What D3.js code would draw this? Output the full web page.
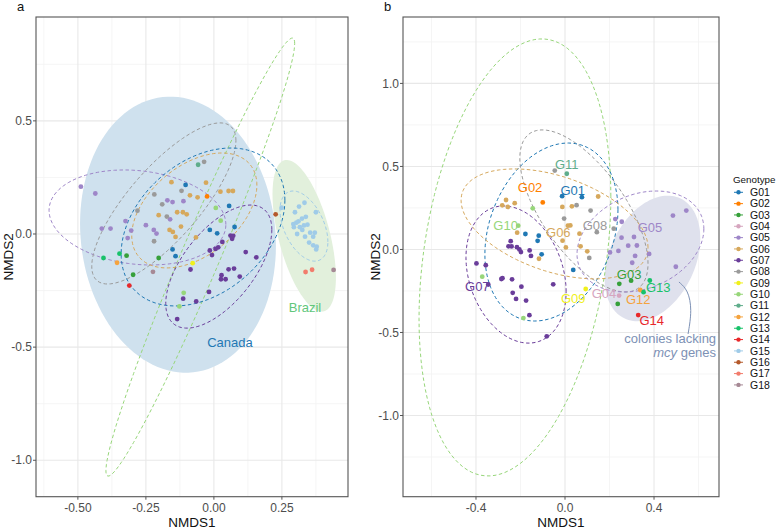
<!DOCTYPE html>
<html>
<head>
<meta charset="utf-8">
<script src="https://cdn.jsdelivr.net/npm/d3@7"></script>
<style>
body { margin: 0; background: #fff; }
text { font-family: "Liberation Sans", Arial, sans-serif; }
</style>
</head>
<body>
<div id="chart"></div>
<script>
var width = 778, height = 529;

var genotypes = ['G01','G02','G03','G04','G05','G06','G07','G08','G09','G10','G11','G12','G13','G14','G15','G16','G17','G18'];
var colors = ['#1f78b4','#ff7f00','#36a03a','#d6a6bf','#9e86c8','#d6a85c','#6a3d9a','#9a9a9a','#f0f01c','#97d67a',
              '#5fad8b','#f5a33e','#18c26a','#e8282a','#9fcbe8','#b4592b','#f27c6c','#a68995'];

// panel a: [genotype, NMDS1, NMDS2]
var pointsA = [
  ['G01',-0.104,0.217],['G01',0.056,0.124],['G01',-0.015,0.018],['G01',0.012,0.003],['G01',0.076,0.031],
  ['G01',-0.152,-0.068],['G01',-0.141,-0.098],
  ['G02',-0.025,0.166],
  ['G03',-0.321,-0.096],['G03',-0.297,-0.180],['G03',-0.203,-0.106],
  ['G05',-0.489,0.209],['G05',-0.436,0.179],['G05',-0.325,0.057],['G05',-0.412,0.024],['G05',-0.380,0.024],
  ['G05',-0.304,0.015],['G05',-0.317,-0.018],['G05',-0.171,0.149],['G05',-0.152,0.141],['G05',-0.112,0.145],
  ['G05',-0.161,0.065],['G05',-0.250,0.039],['G05',-0.221,0.018],['G05',-0.211,0.002],
  ['G06',-0.156,0.229],['G06',-0.029,0.227],['G06',-0.088,0.171],['G06',-0.060,0.162],['G06',0.024,0.187],
  ['G06',0.054,0.190],['G06',0.070,0.190],['G06',-0.203,0.083],['G06',-0.135,0.096],['G06',-0.114,0.096],
  ['G06',-0.100,0.087],['G06',-0.121,0.033],['G06',-0.163,0.018],['G06',-0.151,0.009],['G06',-0.141,-0.013],
  ['G06',-0.066,-0.015],
  ['G07',0.061,-0.007],['G07',0.067,-0.021],['G07',0.071,-0.008],['G07',0.031,-0.035],['G07',0.016,-0.059],
  ['G07',0.006,-0.066],['G07',-0.015,-0.073],['G07',-0.007,-0.093],['G07',0.117,-0.080],['G07',0.156,-0.103],
  ['G07',0.054,-0.156],['G07',0.074,-0.153],['G07',0.028,-0.182],['G07',0.043,-0.200],['G07',0.026,-0.200],
  ['G07',0.095,-0.188],['G07',-0.018,-0.256],['G07',-0.086,-0.157],['G07',-0.113,-0.286],['G07',-0.065,-0.298],
  ['G07',-0.135,-0.376],
  ['G08',-0.036,0.319],['G08',-0.119,0.191],['G08',-0.219,0.175],['G08',-0.190,0.131],['G08',-0.281,0.103],
  ['G08',-0.173,0.077],['G08',-0.220,-0.032],
  ['G09',-0.078,-0.129],
  ['G10',0.007,0.115],['G10',0.025,0.059],['G10',-0.111,-0.260],['G10',-0.127,-0.320],
  ['G11',-0.058,0.306],
  ['G12',-0.356,-0.127],
  ['G13',-0.406,-0.106],['G13',-0.347,-0.087],
  ['G14',-0.311,-0.228],
  ['G15',0.249,0.116],['G15',0.298,0.096],['G15',0.313,0.121],['G15',0.333,0.138],['G15',0.375,0.096],
  ['G15',0.324,0.068],['G15',0.338,0.076],['G15',0.311,0.056],['G15',0.292,0.044],['G15',0.303,0.050],
  ['G15',0.316,0.030],['G15',0.331,0.038],['G15',0.344,0.041],['G15',0.294,0.030],['G15',0.306,0.000],
  ['G15',0.325,0.018],['G15',0.335,-0.012],['G15',0.354,0.006],['G15',0.371,0.006],['G15',0.365,-0.012],
  ['G15',0.350,-0.038],['G15',0.365,-0.050],['G15',0.376,-0.068],['G15',0.378,-0.056],
  ['G16',0.227,0.087],
  ['G17',0.337,-0.168],['G17',0.361,-0.158],
  ['G18',-0.224,-0.167],['G18',0.440,-0.159]
];

// panel b
var pointsB = [
  ['G01',-0.013,0.321],['G01',0.076,0.315],['G01',-0.178,0.093],['G01',-0.118,0.083],['G01',-0.123,0.052],
  ['G01',-0.105,-0.029],['G01',0.037,-0.123],
  ['G02',-0.100,0.283],
  ['G03',0.244,-0.207],['G03',0.297,-0.188],['G03',0.237,-0.328],
  ['G04',0.243,-0.278],
  ['G05',0.226,0.183],['G05',0.255,0.167],['G05',0.254,0.071],['G05',0.310,0.075],['G05',0.323,0.024],
  ['G05',0.284,0.023],['G05',0.240,-0.009],['G05',0.202,-0.018],['G05',0.315,-0.039],['G05',0.378,-0.027],
  ['G05',0.302,-0.080],['G05',0.498,-0.104],['G05',0.485,0.204],['G05',0.545,0.234],
  ['G06',-0.265,0.298],['G06',-0.282,0.266],['G06',-0.257,0.256],['G06',-0.226,0.279],['G06',-0.012,0.256],
  ['G06',0.031,0.260],['G06',0.149,0.319],['G06',-0.215,0.101],['G06',0.013,0.143],['G06',0.024,0.145],
  ['G06',-0.011,0.053],['G06',0.004,0.012],['G06',0.065,0.095],['G06',0.070,0.019],['G06',0.100,-0.011],
  ['G06',-0.117,-0.056],
  ['G07',-0.244,0.050],['G07',-0.254,0.019],['G07',-0.240,0.018],['G07',-0.216,0.014],['G07',-0.205,0.000],
  ['G07',-0.198,-0.016],['G07',-0.159,-0.006],['G07',-0.153,-0.039],['G07',-0.398,-0.084],['G07',-0.356,-0.095],
  ['G07',-0.345,-0.211],['G07',-0.286,-0.178],['G07',-0.281,-0.173],['G07',-0.238,-0.180],['G07',-0.196,-0.224],
  ['G07',-0.235,-0.261],['G07',-0.053,-0.210],['G07',-0.220,-0.298],['G07',-0.175,-0.308],['G07',-0.160,-0.396],
  ['G07',-0.082,-0.523],
  ['G08',-0.046,0.475],['G08',0.052,0.267],['G08',0.115,0.234],['G08',-0.004,0.186],['G08',0.143,0.104],
  ['G08',0.219,0.125],['G08',0.109,-0.051],
  ['G09',0.093,-0.238],
  ['G10',-0.145,0.248],['G10',-0.210,0.143],['G10',-0.372,-0.164],['G10',-0.187,-0.413],
  ['G11',0.008,0.456],
  ['G12',0.338,-0.244],
  ['G13',0.353,-0.257],['G13',0.381,-0.187],
  ['G14',0.329,-0.395]
];

// ellipses: [group, centre x, centre y, sd x, sd y, correlation]
var regionsA = [['Canada',-0.132,-0.003,0.360,0.610,-0.08],['Brazil',0.332,-0.008,0.1165,0.335,-0.55]];
var regionFill = {Canada:'#cfe1ee', Brazil:'#e2f0dc'};
var ellipsesA = [
  ['G10',-0.050,-0.102,0.347,0.968,0.975],
  ['G05',-0.281,0.073,0.325,0.210,-0.15],
  ['G08',-0.184,0.135,0.265,0.356,0.78],
  ['G01',-0.040,0.031,0.301,0.349,0.34],
  ['G06',-0.072,0.104,0.230,0.254,0.44],
  ['G07',0.018,-0.144,0.195,0.272,0.60],
  ['G15',0.331,0.035,0.088,0.155,-0.45]
];
var regionB = ['mcy',0.393,-0.054,0.215,0.378,0.32];
var ellipsesB = [
  ['G10',-0.225,-0.048,0.431,1.316,0.28],
  ['G08',0.085,0.232,0.288,0.488,-0.65],
  ['G01',-0.061,0.105,0.299,0.536,0.25],
  ['G06',-0.047,0.154,0.420,0.331,-0.43],
  ['G07',-0.220,-0.151,0.225,0.413,-0.25],
  ['G05',0.339,0.048,0.285,0.304,0.25]
];
var labelsB = [
  ['G11',0.008,0.509],['G02',-0.157,0.372],['G01',0.035,0.358],['G10',-0.267,0.146],['G06',-0.030,0.101],
  ['G08',0.135,0.142],['G05',0.382,0.130],['G07',-0.394,-0.220],['G09',0.037,-0.294],['G04',0.175,-0.264],
  ['G03',0.288,-0.149],['G13',0.419,-0.230],['G12',0.329,-0.304],['G14',0.390,-0.429]
];

var ticksAx = [-0.5,-0.25,0,0.25], minorAx = [-0.625,-0.375,-0.125,0.125,0.375];
var ticksAy = [-1.0,-0.5,0,0.5], minorAy = [-0.75,-0.25,0.25,0.75];
var ticksBx = [-0.4,0,0.4], minorBx = [-0.6,-0.2,0.2,0.6];
var ticksBy = [-1.0,-0.5,0,0.5,1.0], minorBy = [-1.25,-0.75,-0.25,0.25,0.75,1.25];

var color = d3.scaleOrdinal().domain(genotypes).range(colors);

var svg = d3.select('#chart').append('svg')
    .attr('width', width).attr('height', height);

function ellipsePath(e, x, y) {
    var pts = d3.range(0, 121).map(function(i) {
        var t = i / 120 * 2 * Math.PI;
        var r = e[5];
        return [x(e[1] + e[3] * Math.cos(t)),
                y(e[2] + e[4] * (r * Math.cos(t) + Math.sqrt(1 - r * r) * Math.sin(t)))];
    });
    return d3.line()(pts) + 'Z';
}

function panel(opt) {
    var x = d3.scaleLinear().domain(opt.xd).range([opt.left, opt.right]);
    var y = d3.scaleLinear().domain(opt.yd).range([opt.bottom, opt.top]);
    var g = svg.append('g');

    g.append('rect').attr('x', opt.left).attr('y', opt.top)
        .attr('width', opt.right - opt.left).attr('height', opt.bottom - opt.top).attr('fill', '#fff');

    g.selectAll('.mx').data(opt.mx).enter().append('line')
        .attr('x1', x).attr('x2', x).attr('y1', opt.top).attr('y2', opt.bottom)
        .attr('stroke', '#f3f3f3').attr('stroke-width', 0.8);
    g.selectAll('.my').data(opt.my).enter().append('line')
        .attr('y1', y).attr('y2', y).attr('x1', opt.left).attr('x2', opt.right)
        .attr('stroke', '#f3f3f3').attr('stroke-width', 0.8);
    g.selectAll('.gx').data(opt.tx).enter().append('line')
        .attr('x1', x).attr('x2', x).attr('y1', opt.top).attr('y2', opt.bottom)
        .attr('stroke', '#e8e8e8').attr('stroke-width', 1.1);
    g.selectAll('.gy').data(opt.ty).enter().append('line')
        .attr('y1', y).attr('y2', y).attr('x1', opt.left).attr('x2', opt.right)
        .attr('stroke', '#e8e8e8').attr('stroke-width', 1.1);

    opt.fills.forEach(function(e) {
        g.append('path').attr('d', ellipsePath(e, x, y)).attr('fill', opt.fillColor[e[0]]);
    });

    g.selectAll('.ell').data(opt.ellipses).enter().append('path')
        .attr('d', function(e) { return ellipsePath(e, x, y); })
        .attr('fill', 'none')
        .attr('stroke', function(e) { return color(e[0]); })
        .attr('stroke-width', 1)
        .attr('stroke-dasharray', '3.5,2.5');

    g.selectAll('.dot').data(opt.points).enter().append('circle')
        .attr('cx', function(d) { return x(d[1]); })
        .attr('cy', function(d) { return y(d[2]); })
        .attr('r', 2.4)
        .attr('fill', function(d) { return color(d[0]); });

    // border
    g.append('rect').attr('x', opt.left).attr('y', opt.top)
        .attr('width', opt.right - opt.left).attr('height', opt.bottom - opt.top)
        .attr('fill', 'none').attr('stroke', '#555').attr('stroke-width', 1.1);

    // ticks
    g.selectAll('.tx').data(opt.tx).enter().append('line')
        .attr('x1', x).attr('x2', x).attr('y1', opt.bottom).attr('y2', opt.bottom + 3)
        .attr('stroke', '#555');
    g.selectAll('.ty').data(opt.ty).enter().append('line')
        .attr('y1', y).attr('y2', y).attr('x1', opt.left - 3).attr('x2', opt.left)
        .attr('stroke', '#555');
    g.selectAll('.tlx').data(opt.tx).enter().append('text')
        .attr('x', x).attr('y', opt.bottom + 15)
        .attr('text-anchor', 'middle').attr('font-size', 12).attr('fill', '#4d4d4d')
        .text(function(d) { return d3.format(opt.fmtx)(d).replace('−', '-'); });
    g.selectAll('.tly').data(opt.ty).enter().append('text')
        .attr('x', opt.left - 4).attr('y', y).attr('dy', '0.35em')
        .attr('text-anchor', 'end').attr('font-size', 12).attr('fill', '#4d4d4d')
        .text(function(d) { return d3.format('.1f')(d).replace('−', '-'); });

    g.append('text').attr('x', (opt.left + opt.right) / 2).attr('y', 527)
        .attr('text-anchor', 'middle').attr('font-size', 13.5).attr('fill', '#111').text('NMDS1');
    g.append('text').attr('transform', 'translate(' + (opt.left - 23.5) + ',' + ((opt.top + opt.bottom) / 2) + ') rotate(-90)')
        .attr('text-anchor', 'middle').attr('font-size', 13.5).attr('fill', '#111').text('NMDS2');
    g.append('text').attr('x', opt.left - 19).attr('y', 11)
        .attr('font-size', 13).attr('fill', '#111').text(opt.tag);

    return {g: g, x: x, y: y};
}

var pa = panel({
    left: 36, right: 348, top: 17, bottom: 496.7,
    xd: [-0.654, 0.493], yd: [-1.161, 0.959],
    tx: ticksAx, mx: minorAx, ty: ticksAy, my: minorAy, fmtx: '.2f',
    fills: regionsA, fillColor: regionFill, ellipses: ellipsesA, points: pointsA, tag: 'a'
});
pa.g.append('text').attr('x', pa.x(0.059)).attr('y', pa.y(-0.480)).attr('dy', '0.35em')
    .attr('text-anchor', 'middle').attr('font-size', 13).attr('fill', '#1f78b4').text('Canada');
pa.g.append('text').attr('x', pa.x(0.335)).attr('y', pa.y(-0.324)).attr('dy', '0.35em')
    .attr('text-anchor', 'middle').attr('font-size', 13).attr('fill', '#62c77c').text('Brazil');

var pb = panel({
    left: 403, right: 719, top: 17, bottom: 496.7,
    xd: [-0.728, 0.692], yd: [-1.489, 1.40],
    tx: ticksBx, mx: minorBx, ty: ticksBy, my: minorBy, fmtx: '.1f',
    fills: [regionB], fillColor: {mcy: '#dfe1ed'}, ellipses: ellipsesB, points: pointsB, tag: 'b'
});
pb.g.selectAll('.lab').data(labelsB).enter().append('text')
    .attr('x', function(d) { return pb.x(d[1]); })
    .attr('y', function(d) { return pb.y(d[2]); })
    .attr('dy', '0.35em').attr('text-anchor', 'middle').attr('font-size', 13)
    .attr('fill', function(d) { return color(d[0]); })
    .text(function(d) { return d[0]; });

var curve = [[0.512,-0.196],[0.553,-0.244],[0.571,-0.364],[0.553,-0.509]];
pb.g.append('path')
    .attr('d', d3.line().x(function(d) { return pb.x(d[0]); }).y(function(d) { return pb.y(d[1]); })
        .curve(d3.curveBasis)(curve))
    .attr('fill', 'none').attr('stroke', '#7d91b5').attr('stroke-width', 1);
pb.g.append('text').attr('x', pb.x(0.679)).attr('y', pb.y(-0.563))
    .attr('text-anchor', 'end').attr('font-size', 13).attr('fill', '#7d91b5').text('colonies lacking');
var t2 = pb.g.append('text').attr('x', pb.x(0.679)).attr('y', pb.y(-0.648))
    .attr('text-anchor', 'end').attr('font-size', 13).attr('fill', '#7d91b5');
t2.append('tspan').attr('font-style', 'italic').text('mcy');
t2.append('tspan').text(' genes');

// legend
var leg = svg.append('g');
leg.append('text').attr('x', 733).attr('y', 183).attr('font-size', 9.8).attr('fill', '#111').text('Genotype');
var items = leg.selectAll('.li').data(genotypes).enter().append('g')
    .attr('transform', function(d, i) { return 'translate(734,' + (192.3 + i * 11.33) + ')'; });
items.append('line').attr('x1', 0).attr('x2', 9).attr('stroke', color).attr('stroke-width', 1);
items.append('circle').attr('cx', 4.5).attr('r', 2.2).attr('fill', color);
items.append('text').attr('x', 16).attr('dy', '0.35em').attr('font-size', 10.5).attr('fill', '#111')
    .text(function(d) { return d; });
</script>
</body>
</html>
